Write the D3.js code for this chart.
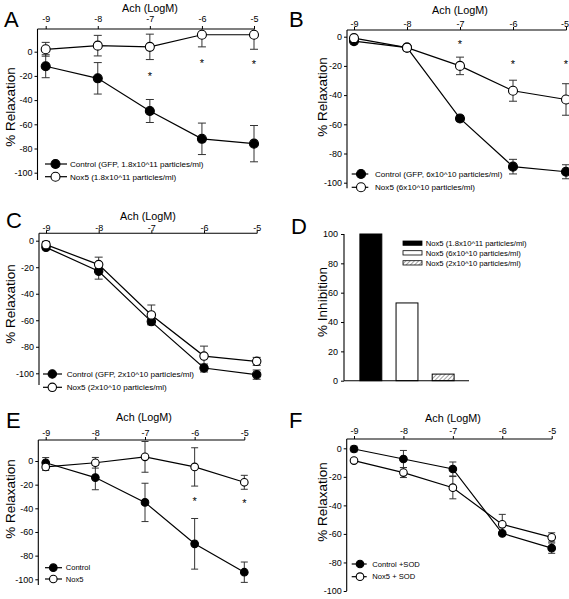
<!DOCTYPE html>
<html><head><meta charset="utf-8">
<script src="https://cdn.jsdelivr.net/npm/d3@7"></script>
<style>body{margin:0;background:#fff} svg{display:block} text{font-family:"Liberation Sans",Arial,Helvetica,sans-serif;fill:#000}</style>
</head><body><svg id="c" width="569" height="599"></svg>
<script>
// ---------------- DATA ----------------
const xTicks = [-9, -8, -7, -6, -5];
const yTicksRelax = [0, -20, -40, -60, -80, -100];
const yTicksInhib = [0, 20, 40, 60, 80, 100];
const xTitle = "Ach (LogM)";

// Panel A
const ctrlA = [-12, -22, -49, -72, -76];
const ctrlAErr = [9.5, 13, 9.5, 13, 15];
const noxA = [2, 5, 4, 14, 14];
const noxAErr = [5.7, 8.5, 10.5, 10, 12];
const starsAx = [-7, -6, -5];
const starsAy = [-18, -7, -8];
const legendA = ["Control (GFP, 1.8x10^11 particles/ml)", "Nox5 (1.8x10^11 particles/ml)"];

// Panel B
const ctrlB = [-3, -7.5, -56, -89, -92.5];
const ctrlBErr = [1, 1.5, 2, 5, 4.8];
const noxB = [-1, -7.5, -20, -37, -43];
const noxBErr = [1, 2, 6, 7.2, 10.8];
const starsBx = [-7, -6, -5];
const starsBy = [-3.4, -17, -17];
const legendB = ["Control (GFP, 6x10^10 particles/ml)", "Nox5 (6x10^10 particles/ml)"];

// Panel C
const ctrlC = [-5, -23, -61, -96, -101];
const ctrlCErr = [1.5, 6, 2, 3, 3.5];
const noxC = [-3, -18, -56, -87, -91];
const noxCErr = [2.5, 5.6, 7.5, 7.5, 3];
const legendC = ["Control (GFP, 2x10^10 particles/ml)", "Nox5 (2x10^10 particles/ml)"];

// Panel D
const barLabels = ["Nox5 (1.8x10^11 particles/ml)", "Nox5 (6x10^10 particles/ml)", "Nox5 (2x10^10 particles/ml)"];
const barValues = [100, 53, 4.5];
const barFills = ["black", "white", "hatch"];

// Panel E
const ctrlE = [-1.5, -14, -35, -70, -94];
const ctrlEErr = [4.4, 10.3, 16.2, 21.4, 8.6];
const noxE = [-5, -1.5, 3.5, -5, -18];
const noxEErr = [3, 4.5, 13, 16.2, 5.9];
const starsEx = [-6, -5];
const starsEy = [-31.5, -33];
const legendE = ["Control", "Nox5"];

// Panel F
const ctrlF = [-0.5, -7.5, -14.5, -59.6, -70];
const ctrlFErr = [2, 6, 4.9, 1, 3.6];
const noxF = [-8.6, -17, -27.6, -53.3, -62.4];
const noxFErr = [1, 3.5, 7.8, 7, 3.2];
const legendF = ["Control +SOD", "Nox5 + SOD"];

// ---------------- DRAW ----------------
const svg = d3.select("#c");
const FONT = "Liberation Sans, Arial, sans-serif";
const W = 569;

function letter(t, x, y) {
  svg.append("text").attr("x", x).attr("y", y).attr("font-size", 22).text(t);
}
function ylabel(t, x, y) {
  svg.append("text").attr("transform", `translate(${x},${y}) rotate(-90)`)
    .attr("text-anchor", "middle").attr("font-size", 13.5).text(t);
}

function linePanel(L, S) {
  const g = svg.append("g");
  const x = d3.scaleLinear().domain([-9, -5]).range([L.x9, L.x5]);
  const y = d3.scaleLinear().domain([0, -100]).range([L.y0, L.y100]);
  const topVal = y.invert(L.top);

  g.append("line").attr("x1", L.left).attr("x2", L.x5 + 0.5).attr("y1", L.top).attr("y2", L.top)
    .attr("stroke", "#000").attr("stroke-width", 1.1);
  g.append("line").attr("x1", L.left).attr("x2", L.left).attr("y1", L.top).attr("y2", L.bot)
    .attr("stroke", "#000").attr("stroke-width", 1.1);

  const xa = g.append("g").attr("transform", `translate(0,${L.top})`)
    .call(d3.axisTop(x).tickValues(xTicks).tickSize(3).tickFormat(d => String(d)));
  xa.select(".domain").remove();
  xa.selectAll("text").attr("y", L.tickY - L.top).attr("dy", 0).attr("font-size", 9)
    .attr("font-family", FONT)
    .each(function (d) {
      const bb = this.getBBox();
      const right = x(d) + bb.x + bb.width;
      if (right > W - 0.5) d3.select(this).attr("dx", (W - 0.5) - right);
    });

  const ya = g.append("g").attr("transform", `translate(${L.left},0)`)
    .call(d3.axisLeft(y).tickValues(yTicksRelax).tickSize(3).tickPadding(2).tickFormat(d => String(d)));
  ya.select(".domain").remove();
  ya.selectAll("text").attr("font-size", 9).attr("font-family", FONT);

  g.append("text").attr("x", L.titleX).attr("y", L.titleY).attr("text-anchor", "middle")
    .attr("font-size", 10.8).text(xTitle);

  const series = [
    { v: S.ctrl, e: S.ctrlErr, fill: "#000" },
    { v: S.nox, e: S.noxErr, fill: "#fff" }
  ];
  series.forEach(s => {
    s.v.forEach((v, i) => {
      const cx = x(xTicks[i]);
      const hi = Math.min(v + s.e[i], topVal), lo = v - s.e[i];
      g.append("line").attr("x1", cx).attr("x2", cx).attr("y1", y(hi)).attr("y2", y(lo))
        .attr("stroke", "#333").attr("stroke-width", 1);
      [hi, lo].forEach(b => {
        if (b >= topVal) return;
        g.append("line").attr("x1", cx - L.cap).attr("x2", cx + L.cap).attr("y1", y(b)).attr("y2", y(b))
          .attr("stroke", "#333").attr("stroke-width", 1);
      });
    });
  });
  const line = d3.line().x((d, i) => x(xTicks[i])).y(d => y(d));
  series.forEach(s => {
    g.append("path").attr("d", line(s.v)).attr("fill", "none").attr("stroke", "#000").attr("stroke-width", 1.2);
  });
  series.forEach(s => {
    g.selectAll(null).data(s.v).enter().append("circle")
      .attr("cx", (d, i) => x(xTicks[i])).attr("cy", d => y(d)).attr("r", L.r)
      .attr("fill", s.fill).attr("stroke", "#000").attr("stroke-width", 1.1);
  });
  if (S.sx) {
    S.sx.forEach((sx, i) => {
      g.append("text").attr("x", x(sx)).attr("y", y(S.sy[i]) + 6.5).attr("text-anchor", "middle")
        .attr("font-size", 11).text("*");
    });
  }
  const fills = ["#000", "#fff"];
  S.legend.forEach((t, i) => {
    const ly = L.lg.ys[i];
    g.append("line").attr("x1", L.lg.x1).attr("x2", L.lg.x2).attr("y1", ly).attr("y2", ly)
      .attr("stroke", "#000").attr("stroke-width", 1.2);
    g.append("circle").attr("cx", L.lg.cx).attr("cy", ly).attr("r", L.r)
      .attr("fill", fills[i]).attr("stroke", "#000").attr("stroke-width", 1.1);
    g.append("text").attr("x", L.lg.tx).attr("y", ly + L.lg.fs * 0.36).attr("font-size", L.lg.fs).text(t);
  });
}

// Panel A
linePanel({ x9: 45.7, x5: 254, left: 37.5, top: 29, bot: 180, y0: 51.7, y100: 172.7, tickY: 22.3,
  titleX: 150, titleY: 11.5, r: 4.5, cap: 4,
  lg: { x1: 45, x2: 67, cx: 55.5, ys: [164, 176.7], tx: 70, fs: 8.1 } },
  { ctrl: ctrlA, ctrlErr: ctrlAErr, nox: noxA, noxErr: noxAErr, sx: starsAx, sy: starsAy, legend: legendA });
letter("A", 4, 27);
ylabel("% Relaxation", 15, 107);

// Panel B
linePanel({ x9: 354, x5: 566, left: 347, top: 30, bot: 188.3, y0: 36.7, y100: 182.7, tickY: 26.7,
  titleX: 460, titleY: 14, r: 4.5, cap: 4,
  lg: { x1: 351.7, x2: 368.3, cx: 361, ys: [174, 187.3], tx: 375, fs: 8.1 } },
  { ctrl: ctrlB, ctrlErr: ctrlBErr, nox: noxB, noxErr: noxBErr, sx: starsBx, sy: starsBy, legend: legendB });
letter("B", 289, 27);
ylabel("% Relaxation", 326.7, 97);

// Panel C
linePanel({ x9: 46, x5: 256.7, left: 39, top: 233.3, bot: 385, y0: 240.7, y100: 373.3, tickY: 230.5,
  titleX: 148, titleY: 220, r: 4.2, cap: 4,
  lg: { x1: 43, x2: 62, cx: 52.3, ys: [374, 387.3], tx: 66.7, fs: 8.1 } },
  { ctrl: ctrlC, ctrlErr: ctrlCErr, nox: noxC, noxErr: noxCErr, legend: legendC });
letter("C", 6, 228);
ylabel("% Relaxation", 15, 304);

// Panel D
(function () {
  const g = svg.append("g");
  const left = 344, base = 380.7;
  const y = d3.scaleLinear().domain([0, 100]).range([base, 234]);
  const x = d3.scaleBand().domain(barLabels).range([344, 470]).paddingInner(0.394).paddingOuter(0.44);
  const defs = svg.append("defs");
  const pat = defs.append("pattern").attr("id", "hatch").attr("patternUnits", "userSpaceOnUse")
    .attr("width", 3).attr("height", 3).attr("patternTransform", "rotate(45)");
  pat.append("rect").attr("width", 3).attr("height", 3).attr("fill", "#fff");
  pat.append("line").attr("x1", 0).attr("x2", 0).attr("y1", 0).attr("y2", 3).attr("stroke", "#444").attr("stroke-width", 1);
  const fillOf = f => f === "hatch" ? "url(#hatch)" : f;

  g.selectAll(null).data(barValues).enter().append("rect")
    .attr("x", (d, i) => x(barLabels[i])).attr("width", x.bandwidth())
    .attr("y", d => y(d)).attr("height", d => base - y(d))
    .attr("fill", (d, i) => fillOf(barFills[i])).attr("stroke", "#000").attr("stroke-width", 1);

  g.append("line").attr("x1", left).attr("x2", 469).attr("y1", base).attr("y2", base).attr("stroke", "#000").attr("stroke-width", 1.1);
  g.append("line").attr("x1", left).attr("x2", left).attr("y1", 234).attr("y2", base).attr("stroke", "#000").attr("stroke-width", 1.1);
  const ya = g.append("g").attr("transform", `translate(${left},0)`)
    .call(d3.axisLeft(y).tickValues(yTicksInhib).tickSize(3).tickPadding(3).tickFormat(d => String(d)));
  ya.select(".domain").remove();
  ya.selectAll("text").attr("font-size", 9).attr("font-family", FONT);

  const lys = [241, 250.7, 260.7];
  barLabels.forEach((t, i) => {
    g.append("rect").attr("x", 403).attr("y", lys[i]).attr("width", 19).attr("height", 4.3)
      .attr("fill", fillOf(barFills[i])).attr("stroke", "#000").attr("stroke-width", 0.8);
    g.append("text").attr("x", 425.7).attr("y", lys[i] + 4.8).attr("font-size", 7.7).text(t);
  });
})();
letter("D", 291, 234);
ylabel("% Inhibition", 326.7, 302);

// Panel E
linePanel({ x9: 45.7, x5: 244.3, left: 38.3, top: 440, bot: 585, y0: 461, y100: 579.3, tickY: 436,
  titleX: 144, titleY: 421, r: 3.8, cap: 3.5,
  lg: { x1: 45, x2: 62, cx: 53.3, ys: [567.7, 579], tx: 65.7, fs: 7.6 } },
  { ctrl: ctrlE, ctrlErr: ctrlEErr, nox: noxE, noxErr: noxEErr, sx: starsEx, sy: starsEy, legend: legendE });
letter("E", 6, 428);
ylabel("% Relaxation", 15, 499);

// Panel F
linePanel({ x9: 354, x5: 551.7, left: 346.7, top: 439, bot: 591, y0: 448.3, y100: 591, tickY: 434.3,
  titleX: 453, titleY: 421.7, r: 3.8, cap: 3.5,
  lg: { x1: 351.7, x2: 366.7, cx: 360, ys: [564, 576.7], tx: 372.3, fs: 7.6 } },
  { ctrl: ctrlF, ctrlErr: ctrlFErr, nox: noxF, noxErr: noxFErr, legend: legendF });
letter("F", 289, 428);
ylabel("% Relaxation", 326.7, 502);
</script>
</body></html>
